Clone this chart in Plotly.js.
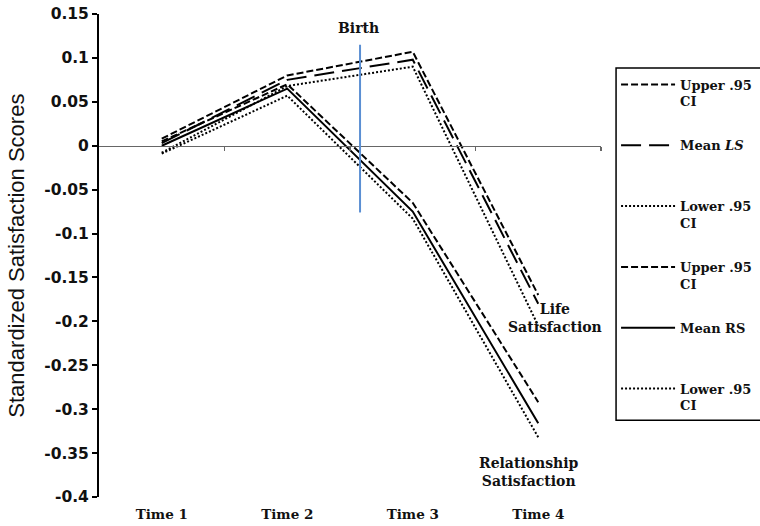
<!DOCTYPE html>
<html>
<head>
<meta charset="utf-8">
<script src="https://cdn.plot.ly/plotly-3.0.1.min.js"></script>
<style>html,body{margin:0;padding:0;background:#fff}#chart{width:760px;height:526px}</style>
</head>
<body>
<div id="chart"></div>
<script>
// ---- data ----
const times = ["Time 1", "Time 2", "Time 3", "Time 4"];
const lsUpper = [0.008, 0.080, 0.107, -0.170];
const lsMean  = [0.003, 0.075, 0.098, -0.180];
const lsLower = [-0.008, 0.068, 0.090, -0.205];
const rsUpper = [0.005, 0.070, -0.065, -0.292];
const rsMean  = [0.000, 0.065, -0.075, -0.316];
const rsLower = [-0.009, 0.057, -0.083, -0.332];
const seriesNames = ["Upper .95<br>CI", "Mean <i>LS</i><br> ", "Lower .95<br>CI",
                     "Upper .95<br>CI", "Mean RS<br> ", "Lower .95<br>CI"];
const yTicks = [0.15, 0.1, 0.05, 0, -0.05, -0.1, -0.15, -0.2, -0.25, -0.3, -0.35, -0.4];
const yTickText = ["0.15", "0.1", "0.05", "0", "-0.05", "-0.1", "-0.15", "-0.2", "-0.25", "-0.3", "-0.35", "-0.4"];
const yTitle = "Standardized Satisfaction Scores";
const birthX = 1.58;            // position of the Birth marker between Time 2 and Time 3
const birthY = [0.115, -0.076]; // vertical extent of Birth marker
const zeroTicks = [0.5, 1.5, 2.5, 3.5];

const serif = "DejaVu Serif, Liberation Serif, serif";
const sans = "DejaVu Sans, Liberation Sans, sans-serif";

function tr(name, y, dash, group) {
  return {
    type: "scatter", mode: "lines", x: times, y: y, name: name,
    legendgroup: group,
    line: {color: "#000", width: 2, dash: dash}
  };
}

const data = [
  tr(seriesNames[0], lsUpper, "7px,3px", "g1"),
  tr(seriesNames[1], lsMean, "20px,8px", "g2"),
  tr(seriesNames[2], lsLower, "2px,2px", "g3"),
  tr(seriesNames[3], rsUpper, "7px,3px", "g4"),
  tr(seriesNames[4], rsMean, "solid", "g5"),
  tr(seriesNames[5], rsLower, "2px,2px", "g6"),
  {type: "scatter", x: [], y: [], xaxis: "x2", showlegend: false, hoverinfo: "skip"}
];

const layout = {
  width: 760, height: 526,
  margin: {l: 99, r: 159, t: 14, b: 29, autoexpand: false},
  paper_bgcolor: "#fff", plot_bgcolor: "#fff",
  showlegend: true,
  legend: {
    x: 1.03, xanchor: "left", y: 0.885, yanchor: "top",
    bgcolor: "rgba(0,0,0,0)", borderwidth: 0,
    font: {family: serif, size: 13, color: "#111", weight: "bold"},
    valign: "top", tracegroupgap: 24, itemwidth: 54
  },
  xaxis: {
    type: "category", categoryarray: times, range: [-0.5, 3.5],
    showline: false, ticks: "", showgrid: false, zeroline: false,
    ticklabelstandoff: 7,
    tickfont: {family: serif, size: 13.5, color: "#111", weight: "bold"}
  },
  xaxis2: {
    type: "linear", overlaying: "x", anchor: "free", position: 0.4 / 0.55,
    range: [-0.5, 3.5], tickvals: zeroTicks, ticks: "outside", ticklen: 4,
    tickcolor: "#666", tickwidth: 1.5, showline: true, linecolor: "#666", linewidth: 1.5,
    showticklabels: false, showgrid: false, zeroline: false
  },
  yaxis: {
    range: [-0.4, 0.15], tickvals: yTicks, ticktext: yTickText,
    showline: true, linecolor: "#000", linewidth: 2,
    ticks: "outside", ticklen: 5, tickwidth: 2, tickcolor: "#000",
    showgrid: false, zeroline: false,
    tickfont: {family: sans, size: 15.5, color: "#111", weight: "bold"}
  },
  shapes: [
    {type: "line", xref: "x", yref: "y",
     x0: birthX, x1: birthX, y0: birthY[0], y1: birthY[1],
     line: {color: "#5b8fd3", width: 2}},
    {type: "rect", xref: "paper", yref: "paper", x0: 1.03, x1: 1.4, y0: 0.159, y1: 0.888,
     line: {color: "#000", width: 1.5}, fillcolor: "#fff", layer: "above"}
  ],
  annotations: [
    {text: yTitle, xref: "paper", yref: "paper", x: -0.165, y: 0.5, textangle: -90,
     xanchor: "center", yanchor: "middle", showarrow: false,
     font: {family: "Liberation Sans, Arial, sans-serif", size: 22, color: "#111"}},
    {text: "Birth", xref: "x", yref: "y", x: 1.57, y: 0.134, showarrow: false,
     font: {family: serif, size: 14, color: "#111", weight: "bold"}},
    {text: "Life<br>Satisfaction", xref: "x", yref: "y", x: 3.13, y: -0.196, showarrow: false,
     align: "center", font: {family: serif, size: 14, color: "#111", weight: "bold"}},
    {text: "Relationship<br>Satisfaction", xref: "x", yref: "y", x: 2.93, y: -0.372, showarrow: false,
     align: "center", font: {family: serif, size: 14, color: "#111", weight: "bold"}}
  ]
};

Plotly.newPlot("chart", data, layout, {staticPlot: true, displayModeBar: false});
</script>
</body>
</html>
